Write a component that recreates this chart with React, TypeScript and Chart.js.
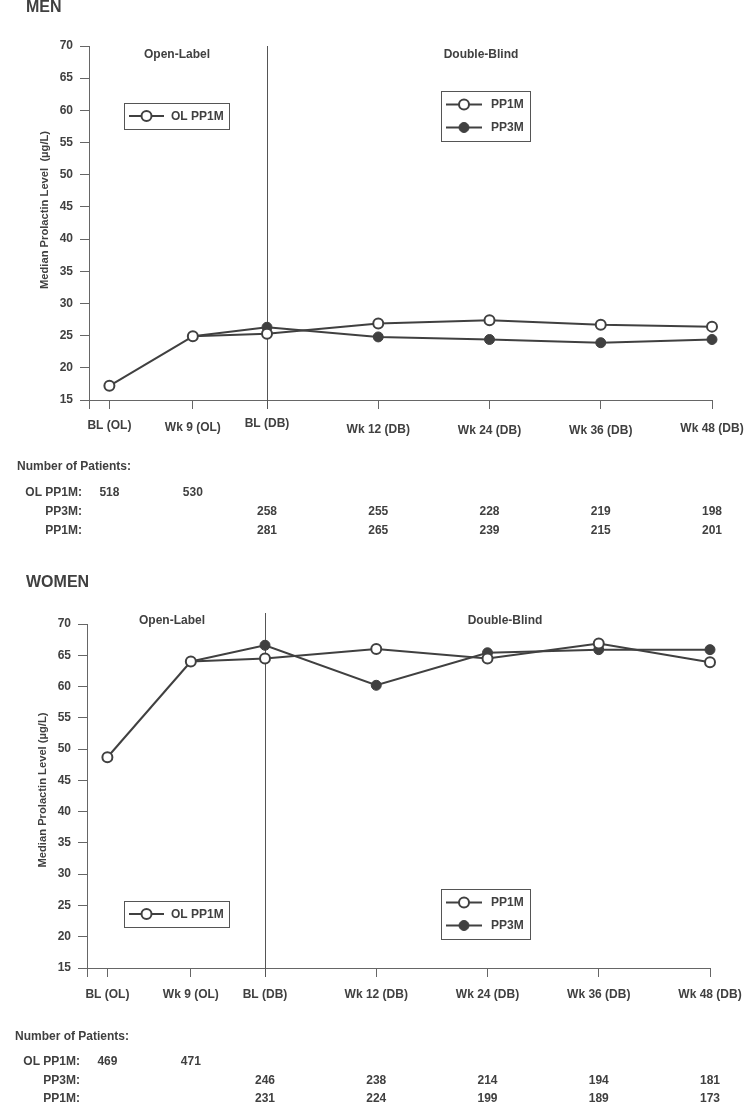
import React, { useEffect, useRef } from "react";
import { Chart, registerables } from "chart.js";

Chart.register(...registerables);

// ---------- data ----------
const xLabels = ["BL (OL)", "Wk 9 (OL)", "BL (DB)", "Wk 12 (DB)", "Wk 24 (DB)", "Wk 36 (DB)", "Wk 48 (DB)"];
const xWeeks = [-17, -8, 0, 12, 24, 36, 48];
const yMin = 15;
const yMax = 70;
const yStep = 5;

const menOL = [17.2, 24.9];
const menPP1M = [25.3, 26.9, 27.4, 26.7, 26.4];
const menPP3M = [26.3, 24.8, 24.4, 23.9, 24.4];

const womenOL = [48.7, 64.0];
const womenPP1M = [64.5, 66.0, 64.5, 66.9, 63.9];
const womenPP3M = [66.6, 60.2, 65.4, 65.9, 65.9];

const menNOL = [518, 530];
const menNPP3M = [258, 255, 228, 219, 198];
const menNPP1M = [281, 265, 239, 215, 201];

const womenNOL = [469, 471];
const womenNPP3M = [246, 238, 214, 194, 181];
const womenNPP1M = [231, 224, 199, 189, 173];

// ---------- layout / style ----------
const W = 744;
const H = 552;
const INK = "#404040";
const AXIS = "#666666";
const FONT_FAMILY = '"Liberation Sans", Arial, Helvetica, sans-serif';
const f = (size: number) => `bold ${size}px ${FONT_FAMILY}`;
const X_MIN = -19.2;

const menLayout = {
  areaTop: 46, areaBottom: 400, left: 89, right: 712,
  titleX: 26, titleY: 7.5,
  phaseY: 55, olPhaseX: 177, dbPhaseX: 481,
  dividerTop: 46,
  olBox: { x: 124, y: 103, w: 105, h: 26 },
  dbBox: { x: 441, y: 91, w: 89, h: 50 },
  xLabelDy: [25.5, 28, 24, 30, 30.5, 30.5, 28.5],
  yTitleX: 45, yTitleY: 210,
  tableX: 17, tableLabelRight: 82, tableY: [466.5, 492.5, 512, 531],
};

const womenLayout = {
  areaTop: 72, areaBottom: 416, left: 87, right: 710,
  titleX: 26, titleY: 30.5,
  phaseY: 69, olPhaseX: 172, dbPhaseX: 505,
  dividerTop: 61,
  olBox: { x: 124, y: 349, w: 105, h: 26 },
  dbBox: { x: 441, y: 337, w: 89, h: 50 },
  xLabelDy: [27, 27, 27, 27, 27, 27, 27],
  yTitleX: 43, yTitleY: 238,
  tableX: 15, tableLabelRight: 80, tableY: [485, 510, 529, 547],
};

type PanelProps = {
  title: string;
  yTitle: string;
  ol: number[];
  pp1m: number[];
  pp3m: number[];
  nOL: number[];
  nPP3M: number[];
  nPP1M: number[];
  L: typeof menLayout;
};

function drawSymbol(ctx: CanvasRenderingContext2D, x1: number, x2: number, y: number, filled: boolean) {
  ctx.save();
  ctx.strokeStyle = INK;
  ctx.lineWidth = 2;
  ctx.beginPath();
  ctx.moveTo(x1, y);
  ctx.lineTo(x2, y);
  ctx.stroke();
  const cx = (x1 + x2) / 2;
  ctx.beginPath();
  ctx.arc(cx, y, 5, 0, Math.PI * 2);
  ctx.fillStyle = filled ? INK : "#ffffff";
  ctx.fill();
  ctx.lineWidth = filled ? 1 : 2;
  ctx.stroke();
  ctx.restore();
}

function Panel(props: PanelProps) {
  const ref = useRef<HTMLCanvasElement | null>(null);

  useEffect(() => {
    const canvas = ref.current;
    if (!canvas) return;
    const { L } = props;

    const olData = props.ol.map((v, i) => ({ x: xWeeks[i], y: v }));
    const pp1mData = [{ x: xWeeks[1], y: props.ol[1] }, ...props.pp1m.map((v, i) => ({ x: xWeeks[i + 2], y: v }))];
    const pp3mData = [{ x: xWeeks[1], y: props.ol[1] }, ...props.pp3m.map((v, i) => ({ x: xWeeks[i + 2], y: v }))];
    const radii = pp1mData.map((_, i) => (i === 0 ? 0 : 5));

    const annot = {
      id: "annot",
      beforeDatasetsDraw(chart: any) {
        const ctx = chart.ctx as CanvasRenderingContext2D;
        const xs = chart.scales.x;
        const px = Math.round(xs.getPixelForValue(xWeeks[2])) + 0.5;
        ctx.save();
        ctx.strokeStyle = "#555555";
        ctx.lineWidth = 1;
        ctx.beginPath();
        ctx.moveTo(px, L.dividerTop);
        ctx.lineTo(px, chart.chartArea.bottom + 9);
        ctx.stroke();
        ctx.restore();
      },
      afterDraw(chart: any) {
        const ctx = chart.ctx as CanvasRenderingContext2D;
        const xs = chart.scales.x;
        const bottom = chart.chartArea.bottom;
        ctx.save();
        ctx.fillStyle = INK;
        ctx.textBaseline = "middle";

        // panel title
        ctx.font = f(16);
        ctx.textAlign = "left";
        ctx.fillText(props.title, L.titleX, L.titleY);

        // phase labels
        ctx.font = f(12);
        ctx.textAlign = "center";
        ctx.fillText("Open-Label", L.olPhaseX, L.phaseY);
        ctx.fillText("Double-Blind", L.dbPhaseX, L.phaseY);

        // x labels
        xLabels.forEach((lab, i) => {
          ctx.fillText(lab, xs.getPixelForValue(xWeeks[i]), bottom + L.xLabelDy[i]);
        });

        // y title
        ctx.save();
        ctx.translate(L.yTitleX, L.yTitleY);
        ctx.rotate(-Math.PI / 2);
        ctx.font = f(11.2);
        ctx.textAlign = "center";
        ctx.fillText(props.yTitle, 0, 0);
        ctx.restore();

        // legend boxes
        ctx.strokeStyle = "#555555";
        ctx.lineWidth = 1;
        const ob = L.olBox;
        ctx.strokeRect(ob.x + 0.5, ob.y + 0.5, ob.w, ob.h);
        drawSymbol(ctx, ob.x + 5, ob.x + 40, ob.y + ob.h / 2, false);
        ctx.fillStyle = INK;
        ctx.font = f(12);
        ctx.textAlign = "left";
        ctx.fillText("OL PP1M", ob.x + 47, ob.y + ob.h / 2 + 0.5);

        const db = L.dbBox;
        ctx.strokeStyle = "#555555";
        ctx.lineWidth = 1;
        ctx.strokeRect(db.x + 0.5, db.y + 0.5, db.w, db.h);
        drawSymbol(ctx, db.x + 5, db.x + 41, db.y + 13.5, false);
        drawSymbol(ctx, db.x + 5, db.x + 41, db.y + 36.5, true);
        ctx.fillStyle = INK;
        ctx.font = f(12);
        ctx.textAlign = "left";
        ctx.fillText("PP1M", db.x + 50, db.y + 14);
        ctx.fillText("PP3M", db.x + 50, db.y + 37);

        // table
        ctx.font = f(12);
        ctx.textAlign = "left";
        ctx.fillText("Number of Patients:", L.tableX, L.tableY[0]);
        ctx.textAlign = "right";
        ctx.fillText("OL PP1M:", L.tableLabelRight, L.tableY[1]);
        ctx.fillText("PP3M:", L.tableLabelRight, L.tableY[2]);
        ctx.fillText("PP1M:", L.tableLabelRight, L.tableY[3]);
        ctx.textAlign = "center";
        props.nOL.forEach((n, i) => ctx.fillText(String(n), xs.getPixelForValue(xWeeks[i]), L.tableY[1]));
        props.nPP3M.forEach((n, i) => ctx.fillText(String(n), xs.getPixelForValue(xWeeks[i + 2]), L.tableY[2]));
        props.nPP1M.forEach((n, i) => ctx.fillText(String(n), xs.getPixelForValue(xWeeks[i + 2]), L.tableY[3]));
        ctx.restore();
      },
    };

    const chart = new Chart(canvas, {
      type: "line",
      data: {
        datasets: [
          {
            label: "OL PP1M",
            data: olData,
            borderColor: INK,
            borderWidth: 2,
            pointRadius: 5,
            pointBorderWidth: 2,
            pointBackgroundColor: "#ffffff",
            pointBorderColor: INK,
            clip: false,
          },
          {
            label: "PP1M",
            data: pp1mData,
            borderColor: INK,
            borderWidth: 2,
            pointRadius: radii,
            pointBorderWidth: 2,
            pointBackgroundColor: "#ffffff",
            pointBorderColor: INK,
            clip: false,
          },
          {
            label: "PP3M",
            data: pp3mData,
            borderColor: INK,
            borderWidth: 2,
            pointRadius: radii,
            pointBorderWidth: 1,
            pointBackgroundColor: INK,
            pointBorderColor: INK,
            clip: false,
          },
        ],
      } as any,
      options: {
        responsive: false,
        animation: false,
        devicePixelRatio: 1,
        events: [],
        layout: { padding: { top: L.areaTop, right: W - L.right, left: 0, bottom: 0 } },
        plugins: { legend: { display: false }, tooltip: { enabled: false } },
        scales: {
          x: {
            type: "linear",
            min: X_MIN,
            max: xWeeks[xWeeks.length - 1],
            afterBuildTicks: (s: any) => {
              s.ticks = [X_MIN, ...xWeeks].map((v) => ({ value: v }));
            },
            afterFit: (s: any) => {
              s.height = H - L.areaBottom;
            },
            ticks: { display: false },
            grid: { drawOnChartArea: false, drawTicks: true, tickLength: 9, color: AXIS, lineWidth: 1 },
            border: { display: true, color: AXIS, width: 1 },
          },
          y: {
            type: "linear",
            min: yMin,
            max: yMax,
            afterFit: (s: any) => {
              s.width = L.left;
            },
            ticks: {
              stepSize: yStep,
              padding: 7,
              color: INK,
              font: { family: FONT_FAMILY, size: 12, weight: "bold" },
            },
            grid: { drawOnChartArea: false, drawTicks: true, tickLength: 9, color: AXIS, lineWidth: 1 },
            border: { display: true, color: AXIS, width: 1 },
          },
        },
      } as any,
      plugins: [annot],
    });

    return () => chart.destroy();
  }, []);

  return <canvas ref={ref} width={W} height={H} style={{ display: "block", width: W, height: H }} />;
}

export default function App() {
  return (
    <div style={{ position: "absolute", left: 0, top: 0, width: W, height: H * 2, background: "#ffffff" }}>
      <Panel
        title="MEN"
        yTitle="Median Prolactin Level  (µg/L)"
        ol={menOL}
        pp1m={menPP1M}
        pp3m={menPP3M}
        nOL={menNOL}
        nPP3M={menNPP3M}
        nPP1M={menNPP1M}
        L={menLayout}
      />
      <Panel
        title="WOMEN"
        yTitle="Median Prolactin Level (µg/L)"
        ol={womenOL}
        pp1m={womenPP1M}
        pp3m={womenPP3M}
        nOL={womenNOL}
        nPP3M={womenNPP3M}
        nPP1M={womenNPP1M}
        L={womenLayout}
      />
    </div>
  );
}
